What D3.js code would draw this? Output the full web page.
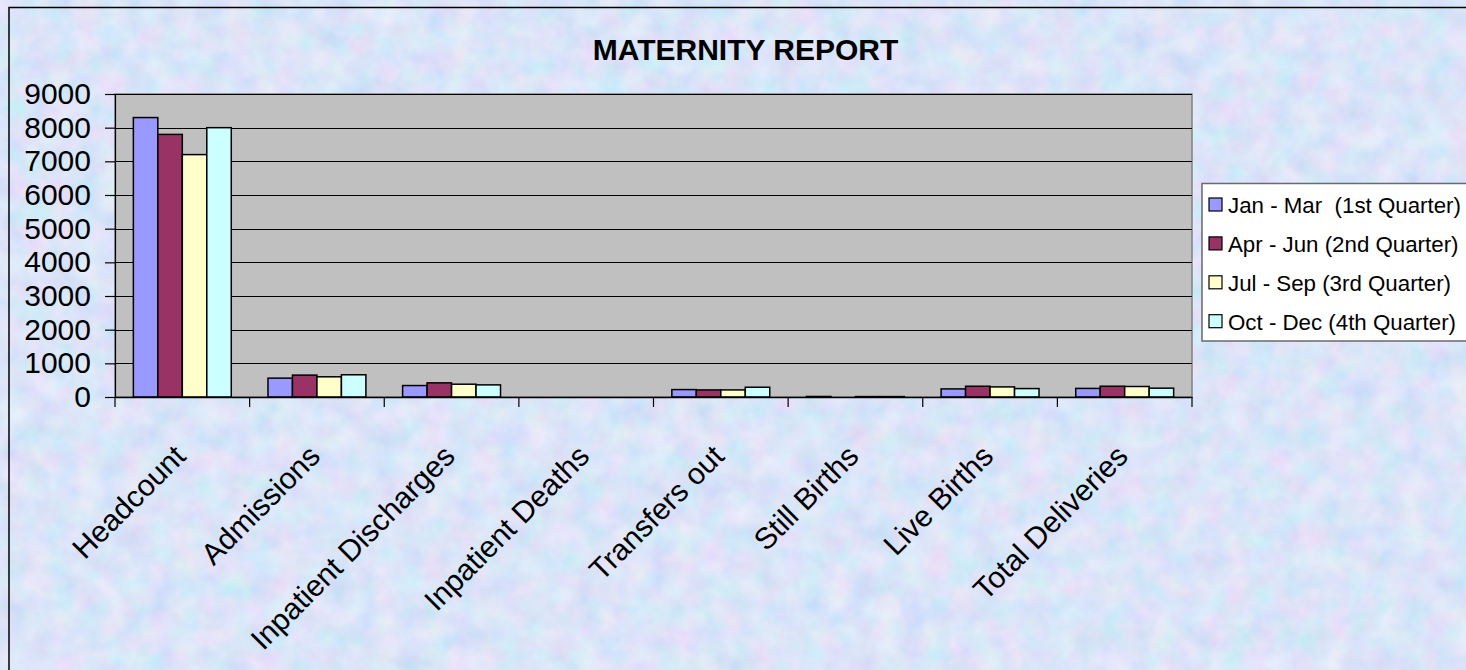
<!DOCTYPE html>
<html>
<head>
<meta charset="utf-8">
<script src="https://cdn.jsdelivr.net/npm/d3@7"></script>
<style>
  body { margin: 0; padding: 0; overflow: hidden; }
  svg { display: block; font-family: Arial, "Liberation Sans", sans-serif; }
</style>
</head>
<body>
<div id="chart"></div>
<script>
// chart data
var categories = ["Headcount", "Admissions", "Inpatient Discharges", "Inpatient Deaths",
    "Transfers out", "Still Births", "Live Births", "Total Deliveries"];
var seriesNames = ["Jan - Mar  (1st Quarter)", "Apr - Jun (2nd Quarter)",
    "Jul - Sep (3rd Quarter)", "Oct - Dec (4th Quarter)"];
var q1 = [8300, 560, 340, 0, 220, 15, 240, 255];
var q2 = [7800, 650, 420, 0, 210, 0, 320, 320];
var q3 = [7200, 600, 380, 0, 210, 12, 300, 312];
var q4 = [8000, 660, 360, 0, 290, 12, 250, 262];
var yTicks = [0, 1000, 2000, 3000, 4000, 5000, 6000, 7000, 8000, 9000];
var colors = ["#9999FF", "#993366", "#FFFFCC", "#CCFFFF"];

var svgWidth = 1466, svgHeight = 670;
var plot = { left: 115, right: 1192, top: 94, bottom: 397 };

var svg = d3.select("#chart").append("svg")
    .attr("width", svgWidth)
    .attr("height", svgHeight);

// textured background
var defs = svg.append("defs");
var f = defs.append("filter").attr("id", "tex").attr("x", 0).attr("y", 0)
    .attr("width", "100%").attr("height", "100%");
f.append("feTurbulence").attr("type", "fractalNoise").attr("baseFrequency", 0.04)
    .attr("numOctaves", 3).attr("seed", 4).attr("result", "noise");
f.append("feColorMatrix").attr("in", "noise").attr("type", "matrix")
    .attr("values", "0.7 0 0 0 0.45  0 0.4 0 0 0.65  0 0 0.2 0 0.86  0 0 0 0 1");

svg.append("rect").attr("width", svgWidth).attr("height", svgHeight).attr("fill", "#c9d9f6");
svg.append("rect").attr("width", svgWidth).attr("height", svgHeight)
    .attr("filter", "url(#tex)").attr("opacity", 0.6);

// chart frame
svg.append("rect")
    .attr("x", 9).attr("y", 7.5).attr("width", 1500).attr("height", 700)
    .attr("fill", "none").attr("stroke", "#000").attr("stroke-width", 1.5);

// title
svg.append("text")
    .attr("x", 745.5).attr("y", 60)
    .attr("text-anchor", "middle")
    .style("font-size", "30px").style("font-weight", "bold")
    .text("MATERNITY REPORT");

// scales
var x0 = d3.scaleBand().domain(categories).range([plot.left, plot.right]).padding(0);
var bw = x0.bandwidth() / 5.5;
var x1 = d3.scaleBand().domain(d3.range(4)).range([bw * 0.75, bw * 4.75]).padding(0);
var y = d3.scaleLinear().domain([0, 9000]).range([plot.bottom, plot.top]);

// plot area
svg.append("rect")
    .attr("x", plot.left).attr("y", plot.top)
    .attr("width", plot.right - plot.left).attr("height", plot.bottom - plot.top)
    .attr("fill", "#C0C0C0").attr("stroke", "#808080").attr("stroke-width", 1.5);

// gridlines
svg.append("g").selectAll("line")
    .data(yTicks.filter(d => d > 0))
    .enter().append("line")
    .attr("x1", plot.left).attr("x2", plot.right)
    .attr("y1", d => Math.round(y(d)) + 0.5).attr("y2", d => Math.round(y(d)) + 0.5)
    .attr("stroke", "#000").attr("stroke-width", 1);

// bars
var table = categories.map((c, i) => ({ cat: c, vals: [q1[i], q2[i], q3[i], q4[i]] }));
var groups = svg.append("g").selectAll("g")
    .data(table).enter().append("g")
    .attr("transform", d => `translate(${x0(d.cat)},0)`);
groups.selectAll("rect")
    .data(d => d.vals.map((v, k) => ({ v: v, k: k })).filter(e => e.v > 0))
    .enter().append("rect")
    .attr("x", d => x1(d.k))
    .attr("width", x1.bandwidth())
    .attr("y", d => y(d.v))
    .attr("height", d => plot.bottom - y(d.v))
    .attr("fill", d => colors[d.k])
    .attr("stroke", "#000").attr("stroke-width", 1.5);

// y axis
var yAxis = svg.append("g")
    .attr("transform", `translate(${plot.left},0)`)
    .call(d3.axisLeft(y).tickValues(yTicks).tickSize(10).tickPadding(14).tickFormat(d3.format("d")));
yAxis.selectAll("text").style("font-size", "30px").attr("fill", "#000")
    .style("font-family", "Arial, 'Liberation Sans', sans-serif");
yAxis.selectAll("line, path").attr("stroke", "#000").attr("stroke-width", 1.2);

// x axis
var xAxis = svg.append("g")
    .attr("transform", `translate(0,${plot.bottom})`)
    .call(d3.axisBottom(x0).tickSize(0).tickFormat(""));
xAxis.select("path").attr("stroke", "#000").attr("stroke-width", 1.5);
xAxis.selectAll(".tick").remove();
xAxis.selectAll("line.sep")
    .data(categories.concat(["end"]))
    .enter().append("line")
    .attr("class", "sep")
    .attr("x1", (d, i) => plot.left + i * x0.step()).attr("x2", (d, i) => plot.left + i * x0.step())
    .attr("y1", 0).attr("y2", 10)
    .attr("stroke", "#000").attr("stroke-width", 1.2);

// category labels
svg.append("g").selectAll("text")
    .data(categories).enter().append("text")
    .attr("transform", d => `translate(${x0(d) + x0.bandwidth() / 2 + 5},458) rotate(-45)`)
    .attr("text-anchor", "end")
    .style("font-size", "30px")
    .text(d => d);

// legend
var legend = svg.append("g");
legend.append("rect")
    .attr("x", 1202).attr("y", 183.5).attr("width", 300).attr("height", 157.5)
    .attr("fill", "#fff").attr("stroke", "#6a6a6a").attr("stroke-width", 1.5);
var rows = legend.selectAll("g.row")
    .data(seriesNames).enter().append("g")
    .attr("class", "row")
    .attr("transform", (d, i) => `translate(1209,${205 + i * 38.9})`);
rows.append("rect")
    .attr("x", 0).attr("y", -7).attr("width", 13).attr("height", 13)
    .attr("fill", (d, i) => colors[i]).attr("stroke", "#000").attr("stroke-width", 1.2);
rows.append("text")
    .attr("x", 19).attr("y", 8)
    .style("font-size", "22.3px")
    .style("white-space", "pre")
    .attr("xml:space", "preserve")
    .text(d => d);
</script>
</body>
</html>
